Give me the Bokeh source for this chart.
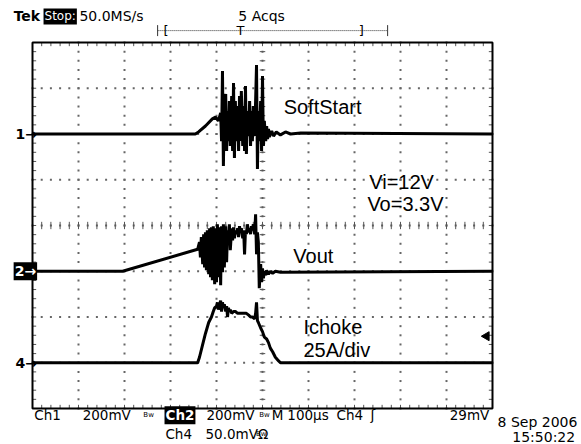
import numpy as np
from bokeh.plotting import figure
from bokeh.models import Range1d, Label, Arrow
from bokeh.embed import file_html
from bokeh.resources import INLINE

# ---------------- data (time in µs, trigger at 0) ----------------
# Ch1: SoftStart, mV (200 mV/div)
ch1_t = [-500, -146, -139, -124, -109, -102, -96, -91, -89, -87, -85, -83, -80, -78, -76, -74,
         -72, -70, -67, -65, -63, -61, -59, -57, -54, -52, -50, -48, -46, -43, -41, -39, -37,
         -35, -33, -30, -28, -26, -24, -22, -20, -17, -15, -13, -11, -9, -7, -4, -2, 0, 2, 4,
         7, 9, 11, 13, 15, 20, 24, 30, 39, 50, 61, 83, 500]
ch1_mv = [0, 0, 9, 35, 66, 74, 57, 92, -31, 275, -140, 144, 175, -74, 100, -31,
          144, -52, 166, -74, 223, -105, 144, -31, 122, -74, 166, -31, 188, -52, 122, -74, 210,
          -87, 100, -9, 144, -52, 100, -31, 122, -9, 144, 302, -153, 100, -31, 144, -74, 253, -52, 57,
          -31, 35, -22, 22, -13, 13, -9, 9, -4, 9, 0, 4, 0]

# Ch2: Vout, mV (200 mV/div)
ch2_t = [-500, -304, -141, -137, -135, -133, -130, -128, -126, -124, -122, -120, -117, -115,
         -113, -111, -109, -107, -104, -102, -100, -98, -96, -93, -91, -89, -87, -85, -83, -80,
         -78, -76, -74, -72, -70, -67, -65, -63, -61, -59, -57, -54, -52, -50, -48, -46, -43,
         -41, -39, -37, -35, -33, -30, -28, -26, -24, -22, -20, -17, -15, -13, -11, -9, -7, -4,
         -2, 0, 2, 4, 7, 9, 13, 17, 22, 28, 39, 500]
ch2_mv = [0, 0, 96, 127, 61, 149, 31, 162, 17, 170, 4, 179, -13, 188,
          -26, 192, -39, 197, -57, 188, -48, 205, -26, 192, -61, 197, -4, 205, 17, 197,
          39, 179, 127, 205, 92, 188, 135, 192, 144, 179, 162, 188, 149, 197, 170, 188, 144,
          179, 74, 179, 162, 205, 170, 188, 162, 197, 179, 205, 162, 249, 74, 170, 127, -74, 31,
          -48, 13, -31, 0, -17, 4, -13, 0, -9, 0, -4, 0]

# Ch4: Ichoke, A (25 A/div)
ch4_t = [-500, -141, -137, -130, -124, -117, -111, -107, -104, -100, -98, -96, -93, -91, -89,
         -87, -85, -83, -80, -78, -76, -74, -72, -70, -67, -63, -59, -54, -48, -41, -35, -30,
         -26, -22, -17, -15, -13, -11, -9, -4, 0, 4, 9, 13, 17, 22, 28, 35, 39, 500]
ch4_a = [0, 0, 3, 10, 16, 22, 25, 28, 30, 31, 33, 29, 32, 34, 28,
         33, 30, 32, 28, 31, 25, 30, 28, 29, 27, 28, 28, 27, 27, 27, 27, 26,
         25, 25, 24, 27, 33, 23, 22, 19, 17, 14, 13, 11, 8, 6, 3, 1, 0, 0]

CH1_SCALE, CH1_POS = 200.0, 2.0     # mV/div, ground position (div)
CH2_SCALE, CH2_POS = 200.0, -1.0
CH4_SCALE, CH4_POS = 25.0, -3.0     # A/div
TRIG_MV, CH4_MV_DIV = 29.0, 50.0

# ---------------- figure (frame = whole canvas; graticule drawn inside) ----------------
p = figure(width=581, height=444, title=None,
           x_range=Range1d(-569.57, 693.48), y_range=Range1d(-4.787, 4.918),
           x_axis_type=None, y_axis_type=None,
           output_backend="svg", toolbar_location=None,
           min_border_left=0, min_border_right=0, min_border_top=0, min_border_bottom=0,
           background_fill_color="white", border_fill_color="white",
           outline_line_color=None)
p.grid.visible = False

# graticule dots
minor_y = np.arange(-4, 4.001, 0.2)
minor_x = np.arange(-500, 500.1, 20)
major_x = np.arange(-400, 401, 100)
major_y = np.arange(-3, 3.1, 1)
gx = np.concatenate([np.repeat(major_x, len(minor_y)), np.tile(minor_x, len(major_y))])
gy = np.concatenate([np.tile(minor_y, len(major_x)), np.repeat(major_y, len(minor_x))])
p.scatter(gx, gy, marker="square", size=2, color="#666666", line_color=None)

# center-line ticks
p.segment(x0=np.full(len(minor_y), -6.0), x1=np.full(len(minor_y), 6.0), y0=minor_y, y1=minor_y,
          line_color="#555555", line_width=1)
p.segment(x0=minor_x, x1=minor_x, y0=np.full(len(minor_x), -0.08), y1=np.full(len(minor_x), 0.08),
          line_color="#555555", line_width=1)
# border ticks
p.segment(x0=np.full(len(minor_y), -500.0), x1=np.full(len(minor_y), -492.0), y0=minor_y, y1=minor_y,
          line_color="#555555", line_width=1)
p.segment(x0=np.full(len(minor_y), 492.0), x1=np.full(len(minor_y), 500.0), y0=minor_y, y1=minor_y,
          line_color="#555555", line_width=1)
p.segment(x0=minor_x, x1=minor_x, y0=np.full(len(minor_x), 4.0), y1=np.full(len(minor_x), 3.92),
          line_color="#555555", line_width=1)
p.segment(x0=minor_x, x1=minor_x, y0=np.full(len(minor_x), -4.0), y1=np.full(len(minor_x), -3.92),
          line_color="#555555", line_width=1)

# graticule border
p.quad(left=[-500], right=[500], bottom=[-4], top=[4], fill_color=None,
       line_color="black", line_width=2)

# traces
p.line(ch1_t, CH1_POS + np.array(ch1_mv) / CH1_SCALE, line_width=3, color="black")
p.line(ch2_t, CH2_POS + np.array(ch2_mv) / CH2_SCALE, line_width=3, color="black")
p.line(ch4_t, CH4_POS + np.array(ch4_a) / CH4_SCALE, line_width=3, color="black")

# trigger level marker
p.scatter([487], [CH4_POS + TRIG_MV / CH4_MV_DIV], marker="triangle", angle=np.pi / 2,
          size=9, color="black")


def lab(x, y, text, size, font="DejaVu Sans", color="black", bg=None, align="left",
        style="normal", pad=0):
    p.add_layout(Label(x=x, y=y, text=text, text_font=font, text_font_size=f"{size}px",
                       text_color=color, text_align=align, text_baseline="middle",
                       background_fill_color=bg, text_font_style=style, padding=pad))


# header
lab(-541, 4.57, "Tek", 14, style="bold")
lab(-476, 4.57, "Stop:", 12, color="white", bg="black", pad=1)
lab(-398, 4.57, "50.0MS/s", 14)
lab(-2, 4.57, "5 Acqs", 14, align="center")
# record bar
p.add_layout(Arrow(x_start=-228, y_start=4.26, x_end=272, y_end=4.26, end=None,
                   line_dash="1 1", line_width=1, line_color="#333333"))
for xb in (-228, 272):
    p.add_layout(Arrow(x_start=xb, y_start=4.38, x_end=xb, y_end=4.14, end=None,
                       line_width=1, line_color="#333333"))
lab(-215, 4.26, "[", 13)
lab(209, 4.26, "]", 13)
lab(-48, 4.26, "T", 13, align="center")

# channel ground markers
lab(-537, CH1_POS, "1\u2192", 14, style="bold")
lab(-541, CH2_POS, "2\u2192", 14, color="white", bg="black", style="bold", pad=1)
lab(-537, CH4_POS, "4\u2192", 14, style="bold")

# annotations
lab(46, 2.58, "SoftStart", 20, font="Liberation Sans")
lab(232, 0.96, "Vi=12V", 20, font="Liberation Sans")
lab(228, 0.46, "Vo=3.3V", 20, font="Liberation Sans")
lab(67, -0.66, "Vout", 20, font="Liberation Sans")
lab(89, -2.21, "Ichoke", 20, font="Liberation Sans")
lab(89, -2.73, "25A/div", 20, font="Liberation Sans")

# footer
r1, r2 = -4.15, -4.55
lab(-496, r1, "Ch1", 13.5)
lab(-391, r1, "200mV", 13.5)
lab(-259, r1, "Bw", 7)
lab(-213, r1, "Ch2", 13.5, color="white", bg="black", style="bold", pad=1)
lab(-122, r1, "200mV", 13.5)
lab(-7, r1, "Bw", 7)
lab(20, r1, "M", 13.5)
lab(54, r1, "100\u00b5s", 13.5)
lab(161, r1, "Ch4", 13.5)
lab(235, r1, "\u0283", 14)
lab(493, r1, "29mV", 13.5, align="right")
lab(-211, r2, "Ch4", 13.5)
lab(-124, r2, "50.0mV\u03a9", 13.5)
lab(-14, r2, "Bw", 7)
lab(511, -4.29, "8 Sep 2006", 14)
lab(543, -4.62, "15:50:22", 14)

open("out.html", "w").write(file_html(p, INLINE))
